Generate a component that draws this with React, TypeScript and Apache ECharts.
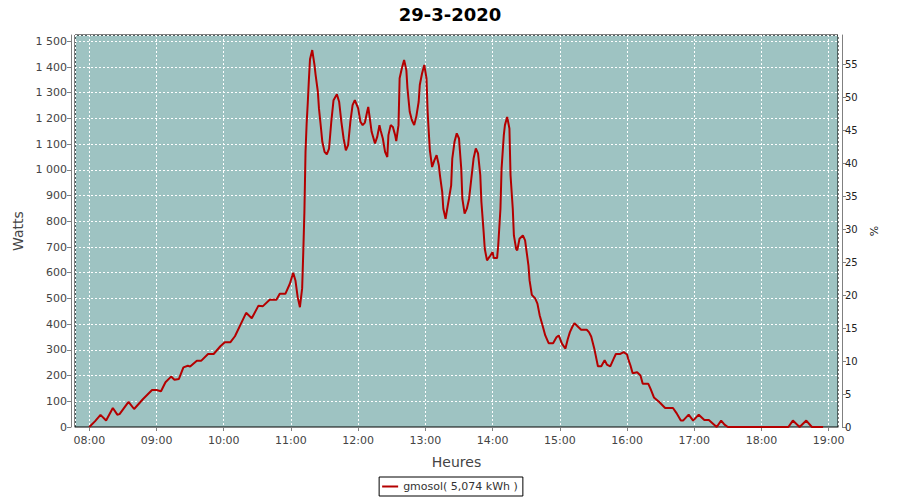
import React, { useEffect, useRef } from "react";
import * as echarts from "echarts";

const chartTitle = "29-3-2020";
const seriesName = "gmosol( 5,074 kWh )";

const times: string[] = [
  "08:00","08:05","08:10","08:15","08:21","08:25","08:27","08:35","08:40","08:48",
  "08:56","09:00","09:04","09:08","09:13","09:16","09:20","09:24","09:28","09:30",
  "09:36","09:40","09:46","09:51","09:57","10:01","10:06","10:10","10:20","10:25",
  "10:31","10:35","10:41","10:47","10:50","10:55","10:59","11:02","11:04","11:06",
  "11:08","11:10","11:11","11:12","11:13","11:14","11:15","11:16","11:17","11:19",
  "11:21","11:22","11:24","11:25","11:27","11:28","11:30","11:32","11:34","11:36",
  "11:38","11:41","11:43","11:45","11:47","11:49","11:51","11:53","11:55","11:57",
  "12:00","12:02","12:04","12:06","12:08","12:09","12:10","12:12","12:15","12:17",
  "12:19","12:20","12:22","12:24","12:26","12:27","12:29","12:31","12:33","12:34",
  "12:36","12:37","12:39","12:41","12:43","12:44","12:46","12:48","12:50","12:52",
  "12:54","12:55","12:57","12:59","13:01","13:02","13:03","13:04","13:06","13:08",
  "13:10","13:12","13:13","13:15","13:16","13:18","13:20","13:23","13:24","13:26",
  "13:28","13:30","13:32","13:33","13:35","13:37","13:39","13:41","13:43","13:45",
  "13:47","13:49","13:50","13:52","13:53","13:55","13:58","14:00","14:01","14:04",
  "14:05","14:07","14:08","14:10","14:11","14:13","14:15","14:16","14:18","14:19",
  "14:21","14:22","14:24","14:27","14:29","14:30","14:32","14:33","14:35","14:38",
  "14:40","14:42","14:45","14:47","14:50","14:54","14:57","14:59","15:02","15:05",
  "15:07","15:09","15:11","15:13","15:16","15:19","15:24","15:26","15:28","15:31",
  "15:34","15:37","15:40","15:42","15:45","15:48","15:50","15:54","15:57","16:00",
  "16:01","16:03","16:05","16:09","16:12","16:14","16:19","16:21","16:24","16:29",
  "16:34","16:41","16:44","16:48","16:50","16:55","16:59","17:04","17:09","17:13",
  "17:20","17:24","17:27","17:30","18:24","18:28","18:34","18:40","18:45","18:55"
];

const watts: number[] = [
  0, 22, 47, 25, 74, 48, 50, 98, 70, 109,
  144, 144, 139, 174, 196, 184, 187, 232, 238, 235,
  258, 258, 284, 284, 314, 330, 330, 353, 444, 423,
  472, 470, 495, 495, 518, 518, 557, 600, 570, 505,
  466, 540, 680, 836, 1070, 1180, 1260, 1350, 1430, 1466,
  1408, 1369, 1304, 1239, 1154, 1109, 1070, 1060, 1083, 1187,
  1271, 1294, 1265, 1187, 1122, 1076, 1096, 1187, 1252, 1271,
  1239, 1187, 1174, 1184, 1226, 1245, 1213, 1148, 1103, 1128,
  1174, 1154, 1122, 1070, 1050, 1135, 1174, 1167, 1135, 1112,
  1174, 1356, 1395, 1427, 1388, 1317, 1226, 1193, 1174, 1210,
  1265, 1330, 1375, 1408, 1356, 1226, 1148, 1076, 1011, 1037,
  1057, 1018, 979, 914, 849, 810, 862, 940, 1044, 1109,
  1142, 1122, 1005, 888, 830, 849, 888, 966, 1044, 1083,
  1064, 979, 875, 758, 693, 648, 667, 680, 657, 657,
  706, 849, 1005, 1135, 1174, 1206, 1161, 979, 849, 745,
  693, 687, 732, 745, 726, 693, 628, 570, 514, 500,
  480, 435, 388, 356, 326, 326, 349, 356, 323, 305,
  340, 369, 388, 404, 391, 378, 378, 369, 352, 300,
  236, 236, 260, 243, 236, 265, 284, 284, 291, 282,
  265, 240, 209, 213, 200, 168, 168, 148, 115, 96,
  74, 74, 55, 25, 25, 48, 25, 48, 27, 27,
  0, 25, 9, 0, 0, 25, 0, 25, 0, 0
];

const wattTicks = { min: 0, max: 1524.5, interval: 100 };
const pctTicks = { min: 0, max: 59.44, interval: 5 };

function ts(hhmm: string, sec = 0): number {
  const [h, m] = hhmm.split(":").map(Number);
  return Date.UTC(2020, 2, 29, h, m, sec);
}

const FONT = "DejaVu Sans";

export default function App() {
  const ref = useRef<HTMLDivElement>(null);
  useEffect(() => {
    if (!ref.current) return;
    const chart = echarts.init(ref.current, null, { renderer: "svg" });
    const data = times.map((t, i) => [ts(t), watts[i]]);
    const fmtNum = (v: number) =>
      String(Math.round(v)).replace(/\B(?=(\d{3})+(?!\d))/g, " ");
    chart.setOption({
      animation: false,
      useUTC: true,
      backgroundColor: "#ffffff",
      title: {
        text: chartTitle,
        left: "center",
        top: 0,
        textStyle: { fontFamily: FONT, fontSize: 18, fontWeight: "bold", color: "#000" },
      },
      legend: {
        left: "center",
        top: 477,
        data: [seriesName],
        icon: "rect",
        itemWidth: 16,
        itemHeight: 2,
        itemGap: 4,
        padding: [4, 5, 4, 3],
        borderColor: "#000",
        borderWidth: 1,
        textStyle: { fontFamily: FONT, fontSize: 11, color: "#333" },
      },
      grid: {
        left: 75,
        right: 62,
        top: 35,
        bottom: 73,
        show: true,
        backgroundColor: "#9ec3c2",
        borderColor: "#000",
        borderWidth: 1,
        containLabel: false,
      },
      xAxis: {
        type: "time",
        min: ts("07:47", 14),
        max: ts("19:08", 18),
        minInterval: 3600 * 1000,
        maxInterval: 3600 * 1000,
        offset: 4,
        name: "Heures",
        nameLocation: "middle",
        nameGap: 24,
        nameTextStyle: { fontFamily: FONT, fontSize: 14, color: "#444" },
        axisLine: { show: true, lineStyle: { color: "#808080", width: 1 } },
        axisTick: { show: true, length: 4, lineStyle: { color: "#808080" } },
        axisLabel: {
          fontFamily: FONT,
          fontSize: 11,
          color: "#444",
          margin: 4,
          showMinLabel: false,
          showMaxLabel: false,
          hideOverlap: false,
          formatter: (v: number) => {
            const d = new Date(v);
            const h = String(d.getUTCHours()).padStart(2, "0");
            const m = String(d.getUTCMinutes()).padStart(2, "0");
            return `${h}:${m}`;
          },
        },
        splitLine: { show: true, lineStyle: { color: "#ffffff", type: [2, 2], width: 1 } },
      },
      yAxis: [
        {
          type: "value",
          min: wattTicks.min,
          max: wattTicks.max,
          interval: wattTicks.interval,
          offset: 4,
          name: "Watts",
          nameLocation: "middle",
          nameGap: 44,
          nameTextStyle: { fontFamily: FONT, fontSize: 14, color: "#444" },
          axisLine: { show: true, lineStyle: { color: "#808080", width: 1 } },
          axisTick: { show: true, length: 4, lineStyle: { color: "#808080" } },
          axisLabel: {
            fontFamily: FONT,
            fontSize: 11,
            color: "#444",
            margin: 4,
            showMaxLabel: false,
            formatter: (v: number) => fmtNum(v),
          },
          splitLine: { show: true, lineStyle: { color: "#ffffff", type: [2, 2], width: 1 } },
        },
        {
          type: "value",
          position: "right",
          min: pctTicks.min,
          max: pctTicks.max,
          interval: pctTicks.interval,
          offset: 4,
          name: "%",
          nameLocation: "middle",
          nameGap: 26,
          nameRotate: 90,
          nameTextStyle: { fontFamily: FONT, fontSize: 11, color: "#222" },
          axisLine: { show: true, lineStyle: { color: "#808080", width: 1 } },
          axisTick: { show: true, length: 4, lineStyle: { color: "#808080" } },
          axisLabel: {
            fontFamily: FONT,
            fontSize: 10,
            color: "#222",
            margin: 3,
            showMaxLabel: false,
          },
          splitLine: { show: false },
        },
      ],
      series: [
        {
          name: seriesName,
          type: "line",
          yAxisIndex: 0,
          data,
          showSymbol: false,
          symbol: "none",
          smooth: false,
          itemStyle: { color: "#b40000" },
          lineStyle: { color: "#b40000", width: 2 },
        },
      ],
    });
    return () => chart.dispose();
  }, []);
  return <div ref={ref} style={{ width: 900, height: 500, position: "absolute", left: 0, top: 0 }} />;
}
